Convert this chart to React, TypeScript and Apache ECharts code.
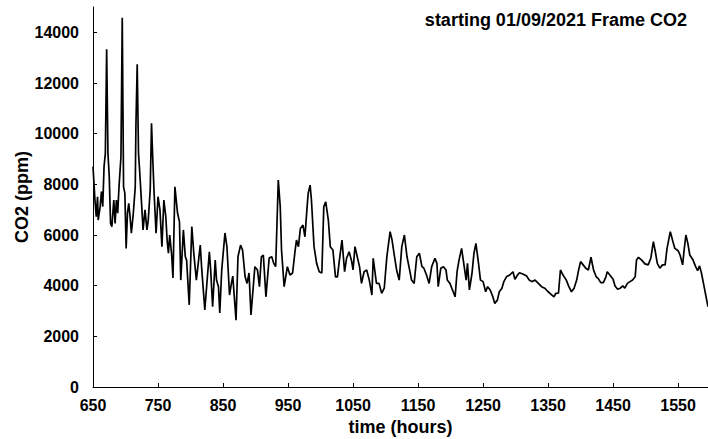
import React, { useEffect, useRef } from "react";
import * as echarts from "echarts";

const titleText = "starting 01/09/2021 Frame CO2";
const xName = "time (hours)";
const yName = "CO2 (ppm)";
const xTicks = [650, 750, 850, 950, 1050, 1150, 1250, 1350, 1450, 1550];
const yTicks = [0, 2000, 4000, 6000, 8000, 10000, 12000, 14000];

const hours = [
  650, 653, 655, 657, 658, 661, 663, 665, 667, 669, 671, 673, 675, 677, 679, 682, 684, 686, 688, 690,
  693, 695, 697, 699, 701, 703, 705, 707, 709, 712, 715, 716, 718, 720, 722, 725, 727, 730, 733, 735,
  738, 740, 742, 744, 747, 750, 753, 756, 759, 762, 764, 766, 768, 771, 773, 776, 780, 783, 785, 789,
  792, 794, 798, 802, 805, 809, 815, 817, 822, 829, 831, 834, 838, 840, 843, 845, 848, 853, 856, 860,
  863, 865, 870, 873, 877, 880, 884, 887, 890, 893, 899, 903, 906, 909, 912, 916, 921, 925, 928, 931,
  935, 938, 940, 944, 949, 953, 957, 961, 963, 966, 969, 973, 976, 979, 981, 984, 986, 990, 994, 998,
  1002, 1005, 1008, 1012, 1015, 1019, 1023, 1026, 1029, 1033, 1037, 1040, 1044, 1048, 1050, 1053, 1057, 1060, 1063, 1067,
  1071, 1075, 1079, 1081, 1084, 1086, 1090, 1094, 1098, 1102, 1107, 1110, 1113, 1117, 1121, 1125, 1129, 1133, 1137, 1140,
  1144, 1148, 1152, 1156, 1159, 1163, 1167, 1171, 1176, 1179, 1181, 1185, 1189, 1193, 1195, 1199, 1203, 1207, 1210, 1213,
  1217, 1221, 1224, 1226, 1229, 1233, 1236, 1239, 1243, 1246, 1250, 1254, 1257, 1261, 1265, 1268, 1272, 1275, 1279, 1282,
  1286, 1291, 1296, 1299, 1303, 1306, 1312, 1317, 1321, 1325, 1330, 1335, 1340, 1345, 1350, 1356, 1359, 1362, 1366, 1369,
  1373, 1378, 1382, 1386, 1390, 1394, 1397, 1400, 1404, 1408, 1412, 1416, 1420, 1424, 1427, 1431, 1435, 1439, 1441, 1445,
  1450, 1453, 1457, 1461, 1465, 1468, 1472, 1476, 1480, 1484, 1486, 1489, 1494, 1499, 1504, 1508, 1512, 1515, 1518, 1522,
  1526, 1530, 1533, 1538, 1542, 1545, 1550, 1553, 1557, 1559, 1562, 1565, 1568, 1573, 1577, 1580, 1583, 1586, 1590, 1594,
  1596,
];

const co2 = [
  8700, 7380, 6720, 7510, 6590, 7120, 7710, 7120, 8700, 9220, 13330, 9220, 8300, 6460, 6330, 7380, 6460, 7380, 6860, 7900,
  9090, 14580, 7900, 7650, 5470, 6860, 7250, 6720, 6070, 6860, 7900, 10270, 12740, 9220, 8430, 7120, 6200, 6990, 6200, 6590,
  7780, 10410, 8960, 7650, 6070, 7510, 6990, 5540, 7380, 6720, 5800, 5280, 6000, 5210, 4300, 7900, 6870, 6520, 4220, 6200,
  5140, 5010, 3240, 6330, 5290, 4220, 5600, 4750, 3040, 5340, 4620, 3170, 5010, 4220, 3960, 2920, 4620, 6080, 5540, 3630,
  4100, 4380, 2640, 5140, 5600, 5410, 4350, 4090, 4500, 2840, 4750, 4620, 3960, 5140, 5210, 3560, 5090, 5140, 4880, 4750,
  8170, 7120, 5410, 3960, 4750, 4420, 4500, 5410, 5800, 5540, 6260, 6390, 5930, 6990, 7650, 7970, 7380, 5540, 4880, 4550,
  4500, 7120, 7310, 6590, 5540, 5410, 4350, 4350, 5010, 5800, 4550, 5080, 5340, 4950, 4620, 5540, 5080, 4750, 4090, 4550,
  4620, 4220, 3630, 5080, 4490, 4090, 4090, 3700, 3900, 5140, 6130, 5800, 5280, 4620, 4220, 5540, 6000, 5140, 4620, 4220,
  4090, 5140, 5280, 4750, 4690, 4420, 4090, 4750, 5080, 4880, 3960, 4690, 4750, 4620, 4220, 4090, 3830, 3560, 4550, 5010,
  5470, 4750, 4220, 4880, 3830, 4490, 5280, 5670, 4880, 4220, 4160, 3760, 3960, 3830, 3560, 3300, 3430, 3760, 3900, 4160,
  4350, 4420, 4550, 4250, 4420, 4510, 4450, 4380, 4220, 4160, 4220, 4090, 3960, 3900, 3760, 3630, 3560, 3700, 3700, 4620,
  4420, 4220, 3960, 3760, 3900, 4220, 4620, 4950, 4820, 4690, 4620, 5120, 4620, 4350, 4290, 4120, 4120, 4350, 4550, 4420,
  4250, 3990, 3860, 3900, 3990, 3900, 4090, 4160, 4220, 4350, 5010, 5120, 5010, 4860, 4820, 5080, 5740, 5340, 4880, 4690,
  4820, 4820, 5470, 6130, 5740, 5470, 5380, 5210, 4820, 5340, 6000, 5670, 5210, 5010, 4750, 4590, 4780, 4490, 3960, 3430,
  3170,
];

const FONT = "'Liberation Sans', Arial, sans-serif";

export default function App() {
  const ref = useRef<HTMLDivElement>(null);
  useEffect(() => {
    if (!ref.current) return;
    const chart = echarts.init(ref.current, null, { renderer: "svg" });
    const data = hours.map((h, i) => [h, co2[i]]);
    chart.setOption({
      animation: false,
      backgroundColor: "#ffffff",
      textStyle: { fontFamily: FONT },
      title: {
        text: titleText,
        right: 21,
        top: 11,
        padding: 0,
        textStyle: { fontFamily: FONT, fontSize: 18, fontWeight: "bold", color: "#000" },
      },
      grid: { left: 93, right: 0, top: 7, bottom: 52, containLabel: false, outerBoundsMode: "none" },
      xAxis: {
        type: "value",
        min: 650,
        max: 1596,
        name: xName,
        nameLocation: "middle",
        nameGap: 31,
        nameMoveOverlap: false,
        nameTextStyle: { fontFamily: FONT, fontSize: 18, fontWeight: "bold", color: "#000" },
        axisLine: { lineStyle: { color: "#000", width: 1 } },
        axisTick: { inside: true, length: 4, customValues: xTicks, lineStyle: { color: "#000" } },
        axisLabel: {
          customValues: xTicks,
          formatter: (v: number) => String(v),
          margin: 10,
          fontFamily: FONT,
          fontSize: 16,
          fontWeight: "bold",
          color: "#000",
        },
        splitLine: { show: false },
      },
      yAxis: {
        type: "value",
        min: 0,
        max: 15000,
        name: yName,
        nameLocation: "middle",
        nameGap: 62,
        nameMoveOverlap: false,
        nameTextStyle: { fontFamily: FONT, fontSize: 18, fontWeight: "bold", color: "#000" },
        axisLine: { show: true, lineStyle: { color: "#000", width: 1 } },
        axisTick: { show: true, inside: true, length: 4, customValues: yTicks, lineStyle: { color: "#000" } },
        axisLabel: {
          customValues: yTicks,
          formatter: (v: number) => String(v),
          margin: 14,
          fontFamily: FONT,
          fontSize: 16,
          fontWeight: "bold",
          color: "#000",
        },
        splitLine: { show: false },
      },
      series: [
        {
          type: "line",
          data,
          showSymbol: false,
          symbol: "none",
          lineStyle: { color: "#000", width: 1.7 },
          clip: true,
        },
      ],
    });
    return () => chart.dispose();
  }, []);
  return <div ref={ref} style={{ width: 708, height: 439, position: "absolute", left: 0, top: 0 }} />;
}
